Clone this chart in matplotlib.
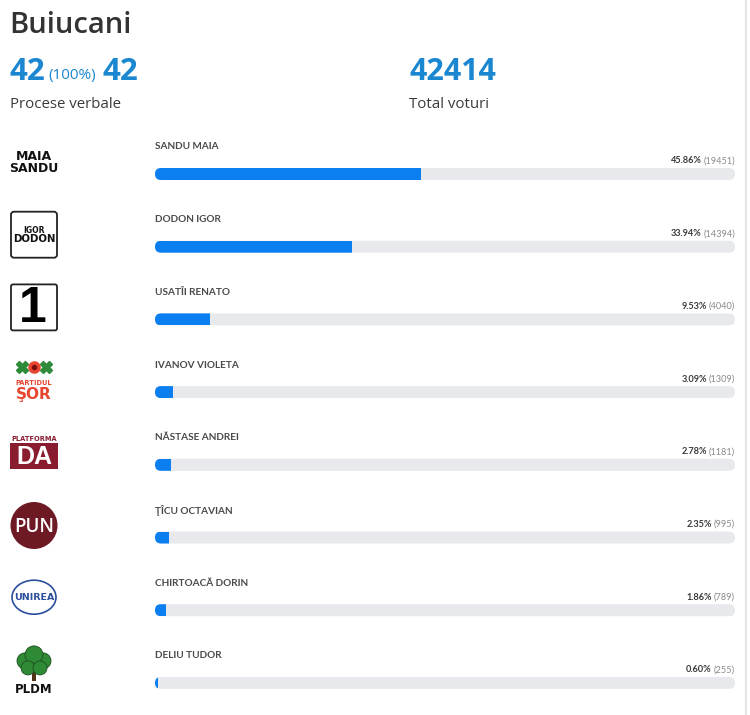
import matplotlib
matplotlib.use("Agg")
import matplotlib.pyplot as plt
from matplotlib.patches import FancyBboxPatch, Rectangle, Circle, Ellipse

# Data
DISTRICT = "Buiucani"
PV_DONE = 42
PV_PCT = 100
PV_TOTAL = 42
TOTAL_VOTES = 42414

candidates = ["SANDU MAIA", "DODON IGOR", "USATÎI RENATO", "IVANOV VIOLETA",
              "NĂSTASE ANDREI", "ŢÎCU OCTAVIAN", "CHIRTOACĂ DORIN", "DELIU TUDOR"]
percents = [45.86, 33.94, 9.53, 3.09, 2.78, 2.35, 1.86, 0.60]
votes = [19451, 14394, 4040, 1309, 1181, 995, 789, 255]

# Colors
HEAD_BLUE = "#1a87d0"
BAR_BLUE = "#0b7ef0"
TRACK = "#e7e9ec"
DARK = "#3a3a3a"
NAME_COL = "#4a4a4a"
COUNT_COL = "#8a8a8a"

W, H = 750, 715
ROW0 = 174.0      # pixel y of first bar centre
PITCH = 72.7      # pixels between rows
BAR_L, BAR_W = 155, 580
BAR_H = 12

fig = plt.figure(figsize=(W / 100, H / 100), dpi=100)
fig.patch.set_facecolor("white")

# full-figure axes in pixel units, for header and logos
bg = fig.add_axes([0, 0, 1, 1])
bg.set_xlim(0, W)
bg.set_ylim(H, 0)
bg.axis("off")
renderer = fig.canvas.get_renderer()

# right border line
bg.axvline(745.5, color="#e4e4e4", lw=1.5)

# ---------------------------------------------------------------
# Header
# ---------------------------------------------------------------
bg.text(9, 33, DISTRICT, fontsize=21, color="#333333", family="Open Sans",
        fontweight="semibold", va="baseline")

t1 = bg.text(10, 80, str(PV_DONE), fontsize=22.5, color=HEAD_BLUE,
             family="Open Sans", fontweight="bold", va="baseline")
x = t1.get_window_extent(renderer).x1 + 3
t2 = bg.text(x, 79, f"({PV_PCT}%)", fontsize=11, color=HEAD_BLUE,
             family="Open Sans", va="baseline")
x = t2.get_window_extent(renderer).x1 + 6
bg.text(x, 80, str(PV_TOTAL), fontsize=22.5, color=HEAD_BLUE,
        family="Open Sans", fontweight="bold", va="baseline")
bg.text(409, 80, str(TOTAL_VOTES), fontsize=22, color=HEAD_BLUE,
        family="Open Sans", fontweight="bold", va="baseline")

bg.text(10, 108, "Procese verbale", fontsize=10.8, color=DARK,
        family="Open Sans", va="baseline")
bg.text(409, 108, "Total voturi", fontsize=10.8, color=DARK,
        family="Open Sans", va="baseline")

# ---------------------------------------------------------------
# Bars
# ---------------------------------------------------------------
top_px = ROW0 - 0.5 * PITCH
y_bottom = -0.5 + (H - top_px) / PITCH
ax = fig.add_axes([BAR_L / W, 0, BAR_W / W, (H - top_px) / H])
ax.set_xlim(0, 100)
ax.set_ylim(y_bottom, -0.5)
ax.axis("off")

xu = 100 / BAR_W          # x units per pixel
yu = 1 / PITCH            # y units per pixel
bh = BAR_H * yu

for i, (name, pct, n) in enumerate(zip(candidates, percents, votes)):
    track = FancyBboxPatch((0, i - bh / 2), 100, bh,
                           boxstyle=f"round,pad=0,rounding_size={BAR_H / 2 * xu}",
                           mutation_aspect=yu / xu, fc=TRACK, ec="none")
    ax.add_patch(track)
    bars = ax.barh(i, pct, height=bh, left=0, color=BAR_BLUE)
    for b in bars:
        b.set_clip_path(track)

    ax.text(0, i - 27 * yu, name, fontsize=7.2, color=NAME_COL,
            family="Lato", fontweight="bold", va="center", ha="left")
    cnt = ax.text(100, i - 13 * yu, f"({n})", fontsize=6.6, color=COUNT_COL,
                  family="Lato", va="center", ha="right")
    ax.annotate(f"{pct:.2f}%", xy=(0, 0.5), xycoords=cnt, xytext=(-2, 0),
                textcoords="offset pixels", fontsize=6.6, color=DARK,
                family="Lato", fontweight="bold", va="center", ha="right")

# ---------------------------------------------------------------
# Logos (rough drawings)
# ---------------------------------------------------------------
def logo_y(i):
    return ROW0 - 12 + PITCH * i

cx = 34

# MAIA SANDU
y = logo_y(0)
bg.text(cx, y - 6, "MAIA", fontsize=9, fontweight="heavy", ha="center",
        va="center", color="#111111")
bg.text(cx, y + 7, "SANDU", fontsize=9, fontweight="heavy", ha="center",
        va="center", color="#111111")

# IGOR DODON
y = logo_y(1)
bg.add_patch(FancyBboxPatch((11, y - 23), 46, 46,
                            boxstyle="round,pad=0,rounding_size=3",
                            fc="white", ec="#222222", lw=1.3))
bg.text(cx, y - 4, "IGOR", fontsize=5.5, fontweight="bold", ha="center",
        va="center", color="#111111")
bg.text(cx, y + 4.5, "DODON", fontsize=7.3, fontweight="bold", ha="center",
        va="center", color="#111111")

# 1
y = logo_y(2)
bg.add_patch(FancyBboxPatch((11, y - 23), 46, 46,
                            boxstyle="round,pad=0,rounding_size=2",
                            fc="white", ec="#222222", lw=1.3))
bg.text(cx - 1, y + 2, "1", fontsize=36, fontweight="bold", ha="center",
        va="center", color="black", family="Liberation Sans")

# Partidul Sor
y = logo_y(3)
SOR_RED = "#e8452f"
bg.plot([cx - 12, cx + 12], [y - 13, y - 13], ls="none", marker="X",
        ms=8, color="#2e8b3a")
bg.plot([cx], [y - 13], marker="o", ms=8, color=SOR_RED)
bg.plot([cx], [y - 13], marker="o", ms=3, color="#7a1010")
bg.text(cx, y + 3, "PARTIDUL", fontsize=4.8, fontweight="bold", ha="center",
        va="center", color=SOR_RED)
bg.text(cx, y + 14, "ŞOR", fontsize=11, fontweight="bold", ha="center",
        va="center", color=SOR_RED)

# Platforma DA
y = logo_y(4)
DA_RED = "#8a1c30"
bg.text(cx, y - 14, "PLATFORMA", fontsize=4.8, fontweight="bold",
        ha="center", va="center", color=DA_RED)
bg.add_patch(Rectangle((10, y - 10), 48, 26, fc=DA_RED, ec="none"))
bg.text(cx, y + 4, "DA", fontsize=18, fontweight="bold", ha="center",
        va="center", color="white", family="Liberation Sans")

# PUN
y = logo_y(5)
bg.add_patch(Circle((cx, y), 23.5, fc="#6e1a24", ec="none"))
bg.text(cx, y + 1, "PUN", fontsize=13.5, ha="center", va="center",
        color="white", family="Open Sans", fontweight="semibold")

# UNIREA
y = logo_y(6)
bg.add_patch(Ellipse((cx, y - 1), 44, 34, fc="white", ec="#2b4f9e", lw=1.2))
bg.text(cx, y - 1, "UNIREA", fontsize=6.8, fontweight="bold", ha="center",
        va="center", color="#2b4f9e", family="Liberation Sans Narrow")

# PLDM
y = logo_y(7)
bg.add_patch(Rectangle((cx - 2, y - 4), 4, 14, fc="#4e3315", ec="none"))
for dx, dy, r in [(-9, -10, 8), (9, -10, 8), (0, -16, 9), (-6, -3, 7), (6, -3, 7)]:
    bg.add_patch(Circle((cx + dx, y + dy), r, fc="#2f8a36", ec="#1d4d1f",
                        lw=0.6))
bg.text(cx, y + 19, "PLDM", fontsize=8.5, fontweight="bold", ha="center",
        va="center", color="#111111")

fig.savefig("out.png", dpi=100, facecolor="white")
